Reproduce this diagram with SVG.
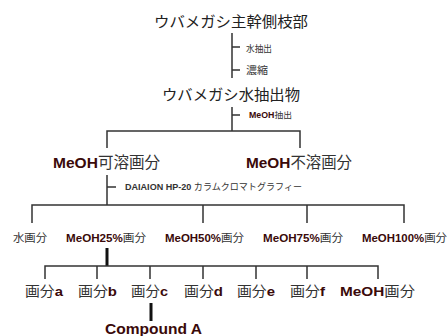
<svg xmlns="http://www.w3.org/2000/svg" width="447" height="336" viewBox="0 0 447 336">
<style>
text{}
.j{font-family:"Noto Sans CJK JP","Noto Sans",sans-serif;fill:#333}
.m{font-family:"Liberation Sans",Arial,sans-serif;font-weight:bold;fill:#3a0a0a}
.ln{stroke:#333;stroke-width:1.5;fill:none}
.tk{stroke:#111;stroke-width:3;fill:none}
</style>
<rect width="447" height="336" fill="#fff"/>
<g id="connectors">
<path class="ln" d="M232,33V78M232,47H240M232,70H240"/>
<path class="ln" d="M232,107V131M232,115H240M107,148V131H300V148"/>
<path class="ln" d="M107,175V205M107,187H116M32,223V205H404V223M203,205V223M307,205V223"/>
<path class="tk" d="M107,248V266"/>
<path class="ln" d="M45,279V266H378V279M97,266V279M150,266V279M203,266V279M256,266V279M307,266V279"/>
<path class="tk" d="M151,303V321"/>
</g>
<g id="n_title"><text class="j" x="154" y="27" font-size="15" textLength="154" lengthAdjust="spacingAndGlyphs" style="fill:#222">ウバメガシ主幹側枝部</text></g>
<g id="n_step1"><text class="j" x="246" y="51.5" font-size="9.5" textLength="26" lengthAdjust="spacingAndGlyphs">水抽出</text></g>
<g id="n_step2"><text class="j" x="246" y="73.5" font-size="10" textLength="22" lengthAdjust="spacingAndGlyphs">濃縮</text></g>
<g id="n_extract"><text class="j" x="162" y="100" font-size="15" textLength="138" lengthAdjust="spacingAndGlyphs" style="fill:#222">ウバメガシ水抽出物</text></g>
<g id="n_meohext"><text x="249" y="118" font-size="8.5" textLength="43" lengthAdjust="spacingAndGlyphs"><tspan class="m">MeOH</tspan><tspan class="j">抽出</tspan></text></g>
<g id="n_soluble"><text x="53" y="168" font-size="15.5" textLength="107" lengthAdjust="spacingAndGlyphs"><tspan class="m">MeOH</tspan><tspan class="j">可溶画分</tspan></text></g>
<g id="n_insoluble"><text x="246" y="168" font-size="15.5" textLength="106" lengthAdjust="spacingAndGlyphs"><tspan class="m">MeOH</tspan><tspan class="j">不溶画分</tspan></text></g>
<g id="n_column"><text x="125" y="190" font-size="9" textLength="177" lengthAdjust="spacingAndGlyphs"><tspan class="m" style="fill:#333">DAIAION HP-20 </tspan><tspan class="j">カラムクロマトグラフィー</tspan></text></g>
<g id="n_water"><text class="j" x="13" y="242" font-size="11.5" textLength="34" lengthAdjust="spacingAndGlyphs">水画分</text></g>
<g id="n_m25"><text x="66" y="242" font-size="11.5" textLength="80" lengthAdjust="spacingAndGlyphs"><tspan class="m">MeOH25%</tspan><tspan class="j">画分</tspan></text></g>
<g id="n_m50"><text x="165" y="242" font-size="11.5" textLength="79" lengthAdjust="spacingAndGlyphs"><tspan class="m">MeOH50%</tspan><tspan class="j">画分</tspan></text></g>
<g id="n_m75"><text x="263" y="242" font-size="11.5" textLength="80" lengthAdjust="spacingAndGlyphs"><tspan class="m">MeOH75%</tspan><tspan class="j">画分</tspan></text></g>
<g id="n_m100"><text x="362" y="242" font-size="11.5" textLength="85" lengthAdjust="spacingAndGlyphs"><tspan class="m">MeOH100%</tspan><tspan class="j">画分</tspan></text></g>
<g id="n_fa"><text x="25" y="296" font-size="13.5" textLength="38" lengthAdjust="spacingAndGlyphs"><tspan class="j">画分</tspan><tspan class="m">a</tspan></text></g>
<g id="n_fb"><text x="78" y="296" font-size="13.5" textLength="39" lengthAdjust="spacingAndGlyphs"><tspan class="j">画分</tspan><tspan class="m">b</tspan></text></g>
<g id="n_fc"><text x="131" y="296" font-size="13.5" textLength="37" lengthAdjust="spacingAndGlyphs"><tspan class="j">画分</tspan><tspan class="m">c</tspan></text></g>
<g id="n_fd"><text x="184" y="296" font-size="13.5" textLength="39" lengthAdjust="spacingAndGlyphs"><tspan class="j">画分</tspan><tspan class="m">d</tspan></text></g>
<g id="n_fe"><text x="237" y="296" font-size="13.5" textLength="38" lengthAdjust="spacingAndGlyphs"><tspan class="j">画分</tspan><tspan class="m">e</tspan></text></g>
<g id="n_ff"><text x="290" y="296" font-size="13.5" textLength="35" lengthAdjust="spacingAndGlyphs"><tspan class="j">画分</tspan><tspan class="m">f</tspan></text></g>
<g id="n_fm"><text x="340" y="296" font-size="13.5" textLength="75" lengthAdjust="spacingAndGlyphs"><tspan class="m">MeOH</tspan><tspan class="j">画分</tspan></text></g>
<g id="n_compound"><text class="m" x="105" y="334" font-size="15.5" textLength="97" lengthAdjust="spacingAndGlyphs">Compound A</text></g>
</svg>
